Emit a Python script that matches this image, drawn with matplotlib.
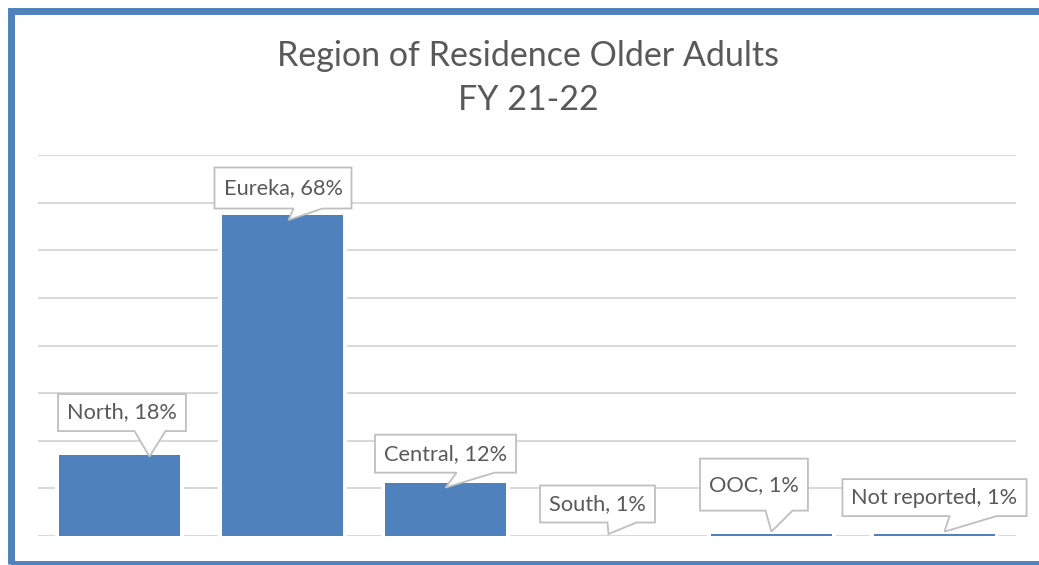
import matplotlib
matplotlib.use('Agg')
import matplotlib.pyplot as plt
from matplotlib.patches import Polygon, Rectangle
from matplotlib.transforms import IdentityTransform

# data
categories = ['North', 'Eureka', 'Central', 'South', 'OOC', 'Not reported']
values = [17.1, 67.4, 11.2, 0.0, 0.5, 0.5]        # bar heights (%)
pct_labels = ['18%', '68%', '12%', '1%', '1%', '1%']  # as printed in the callouts
yticks = [0, 10, 20, 30, 40, 50, 60, 70, 80]

title = 'Region of Residence Older Adults\nFY 21-22'

# callout placement (pixels, relative to the top centre of each bar)
box_dx = [2.5, 0.5, 0, -11, -17.5, 0]
box_dy = [42, 27, 29, 32, 49, 36]
box_h = [37, 41, 38, 37, 52, 37]
tip_dx = [30, 6, 0, 0, 0, 10]
tip_dy = [-2, -5, -5, 2, 2, 2]
base_x = [(-15, 16), (5, 34), (11, 49), (-1, 28), (-6, 21), (5, 52)]

blue = '#4f81bd'
grey_txt = '#595959'
grid_col = '#d9d9d9'
box_edge = '#bfbfbf'
font = 'Lato'

W, H = 1039, 565
fig = plt.figure(figsize=(W / 100, H / 100), dpi=100)
ax = fig.add_axes([38 / W, (H - 536) / H, 978 / W, 381 / H])

x = list(range(len(categories)))
# white halo behind bars so grid lines break around them
ax.bar(x, [v + 0.4 for v in values], bottom=-0.4, width=0.79, color='white',
       zorder=2, clip_on=False)
ax.bar(x, values, width=0.742, color=blue, zorder=3, clip_on=False)

ax.set_xlim(-0.5, len(categories) - 0.5)
ax.set_ylim(0, 80)
ax.set_yticks(yticks)
ax.yaxis.grid(True, color=grid_col, linewidth=1.5, zorder=1)
ax.set_axisbelow(True)
ax.tick_params(left=False, bottom=False, labelleft=False, labelbottom=False)
for s in ax.spines.values():
    s.set_visible(False)

fig.text(528 / W, 1 - 78 / H, title, ha='center', va='center', fontsize=24.5,
         color=grey_txt, family=font, linespacing=1.5)

texts = []
for i, (cat, v, p) in enumerate(zip(categories, values, pct_labels)):
    t = ax.annotate(f'{cat}, {p}', xy=(i, v), xytext=(box_dx[i], box_dy[i]),
                    textcoords='offset pixels', ha='center', va='center',
                    fontsize=15.7, color=grey_txt, family=font, zorder=6,
                    annotation_clip=False)
    texts.append(t)

fig.canvas.draw()
r = fig.canvas.get_renderer()
for i, t in enumerate(texts):
    ext = t.get_window_extent(r)
    bx, by = ax.transData.transform((i, values[i]))
    cy = by + box_dy[i]
    x0, x1 = ext.x0 - 9, ext.x1 + 9
    y0, y1 = cy - box_h[i] / 2, cy + box_h[i] / 2
    tx, ty = bx + tip_dx[i], by + tip_dy[i]
    pts = [(x0, y0), (tx + base_x[i][0], y0), (tx, ty), (tx + base_x[i][1], y0),
           (x1, y0), (x1, y1), (x0, y1)]
    ax.add_patch(Polygon(pts, closed=True, fc='white', ec=box_edge, lw=1.3,
                         transform=IdentityTransform(), clip_on=False, zorder=5))

# outer chart border (right edge runs off the image)
fig.patches.append(Rectangle((10.5, 1), W + 60, H - 11.5, fill=False, ec=blue, lw=5,
                             transform=IdentityTransform(), figure=fig))

fig.savefig('out.png', dpi=100)
